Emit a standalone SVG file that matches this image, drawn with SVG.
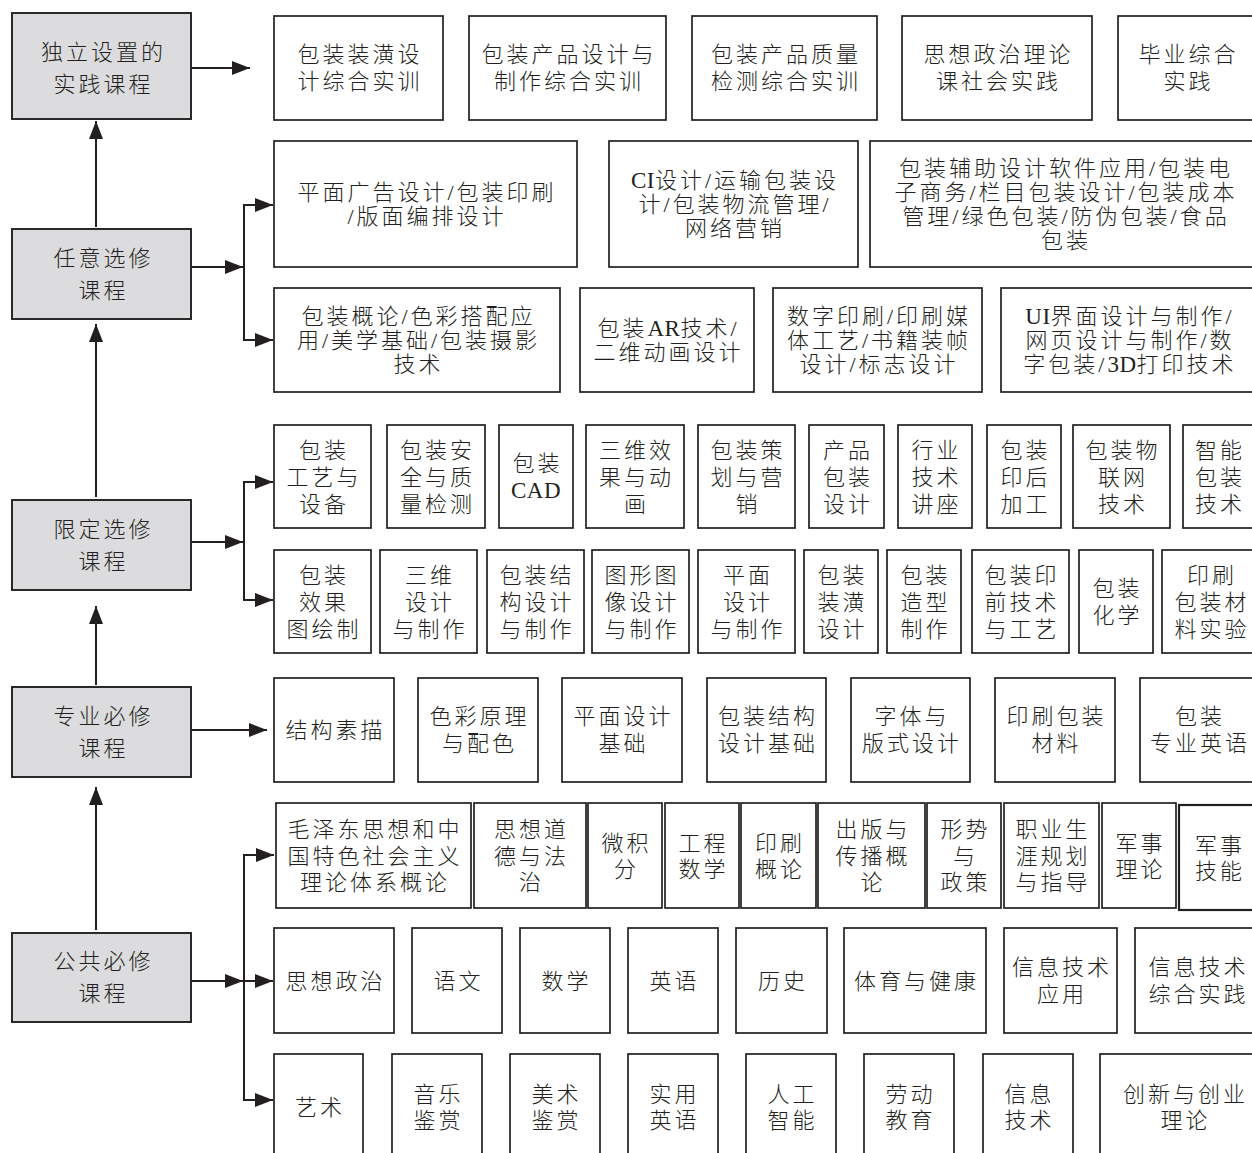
<svg xmlns="http://www.w3.org/2000/svg" width="1252" height="1153" viewBox="0 0 1252 1153">
<defs>
<style>
.b{fill:#ffffff;stroke:#231f20;stroke-width:1.7}
.g{fill:#dcdcde;stroke:#231f20;stroke-width:1.9}
text{font-family:"Liberation Serif","Noto Sans CJK SC",serif;font-size:22px;font-weight:300;letter-spacing:3px;text-anchor:middle;dominant-baseline:central;fill:#231f20}
.l{letter-spacing:0.5px;font-size:23px}
.c{fill:none;stroke:#231f20;stroke-width:2}
</style>
<marker id="ah" markerUnits="userSpaceOnUse" markerWidth="18" markerHeight="14" refX="18" refY="7" orient="auto">
<path d="M0,0 L18,7 L0,14 Z" fill="#231f20"/>
</marker>
</defs>
<rect width="1252" height="1153" fill="#ffffff"/>

<g id="connectors">
<line class="c" x1="192" y1="68" x2="250" y2="68" marker-end="url(#ah)"/>
<line class="c" x1="96" y1="227" x2="96" y2="121" marker-end="url(#ah)"/>
<line class="c" x1="96" y1="497" x2="96" y2="324" marker-end="url(#ah)"/>
<line class="c" x1="96" y1="685" x2="96" y2="606" marker-end="url(#ah)"/>
<line class="c" x1="96" y1="930" x2="96" y2="787" marker-end="url(#ah)"/>
<line class="c" x1="192" y1="267" x2="243" y2="267" marker-end="url(#ah)"/>
<path class="c" d="M244,267 V205 H273" marker-end="url(#ah)"/>
<path class="c" d="M244,267 V340 H273" marker-end="url(#ah)"/>
<line class="c" x1="192" y1="542" x2="243" y2="542" marker-end="url(#ah)"/>
<path class="c" d="M244,542 V482 H273" marker-end="url(#ah)"/>
<path class="c" d="M244,542 V600 H273" marker-end="url(#ah)"/>
<line class="c" x1="192" y1="730" x2="267" y2="730" marker-end="url(#ah)"/>
<line class="c" x1="192" y1="981" x2="243" y2="981" marker-end="url(#ah)"/>
<path class="c" d="M244,981 V855 H274" marker-end="url(#ah)"/>
<line class="c" x1="244" y1="981" x2="273" y2="981" marker-end="url(#ah)"/>
<path class="c" d="M244,981 V1100 H273" marker-end="url(#ah)"/>
</g>

<!-- category nodes -->
<g id="cat-dulishezhi"><rect class="g" x="12" y="13" width="179" height="106"/><text x="103.5" y="52">独立设置的</text><text x="103.5" y="84">实践课程</text></g>
<g id="cat-renyixuanxiu"><rect class="g" x="12" y="229" width="179" height="90"/><text x="103.5" y="258">任意选修</text><text x="103.5" y="290">课程</text></g>
<g id="cat-xiandingxuanxiu"><rect class="g" x="12" y="500" width="179" height="90"/><text x="103.5" y="529">限定选修</text><text x="103.5" y="561">课程</text></g>
<g id="cat-zhuanyebixiu"><rect class="g" x="12" y="687" width="179" height="90"/><text x="103.5" y="716">专业必修</text><text x="103.5" y="748">课程</text></g>
<g id="cat-gonggongbixiu"><rect class="g" x="12" y="933" width="179" height="89"/><text x="103.5" y="961.5">公共必修</text><text x="103.5" y="993.5">课程</text></g>

<!-- row 0 -->
<g id="r0-1"><rect class="b" x="274" y="16" width="169" height="104"/><text x="360" y="54.5">包装装潢设</text><text x="360" y="81.5">计综合实训</text></g>
<g id="r0-2"><rect class="b" x="469" y="16" width="197" height="104"/><text x="569" y="54.5">包装产品设计与</text><text x="569" y="81.5">制作综合实训</text></g>
<g id="r0-3"><rect class="b" x="692" y="16" width="185" height="104"/><text x="786" y="54.5">包装产品质量</text><text x="786" y="81.5">检测综合实训</text></g>
<g id="r0-4"><rect class="b" x="902" y="16" width="190" height="104"/><text x="998.5" y="54.5">思想政治理论</text><text x="998.5" y="81.5">课社会实践</text></g>
<g id="r0-5"><rect class="b" x="1118" y="16" width="150" height="104"/><text x="1188.5" y="54.5">毕业综合</text><text x="1188.5" y="81.5">实践</text></g>

<!-- row 1 -->
<g id="r1-1"><rect class="b" x="274" y="141" width="303" height="126"/><text x="427" y="192">平面广告设计/包装印刷</text><text x="427" y="216">/版面编排设计</text></g>
<g id="r1-2"><rect class="b" x="609" y="141" width="249" height="126"/><text x="735" y="180"><tspan class="l">CI</tspan>设计/运输包装设</text><text x="735" y="204">计/包装物流管理/</text><text x="735" y="228">网络营销</text></g>
<g id="r1-3"><rect class="b" x="870" y="141" width="400" height="126"/><text x="1066" y="168">包装辅助设计软件应用/包装电</text><text x="1066" y="192">子商务/栏目包装设计/包装成本</text><text x="1066" y="216">管理/绿色包装/防伪包装/食品</text><text x="1066" y="240">包装</text></g>
<g id="r1-4"><rect class="b" x="274" y="288" width="286" height="104"/><text x="418.5" y="316">包装概论/色彩搭配应</text><text x="418.5" y="340">用/美学基础/包装摄影</text><text x="418.5" y="364">技术</text></g>
<g id="r1-5"><rect class="b" x="580" y="288" width="174" height="104"/><text x="668.5" y="328">包装<tspan class="l">AR</tspan>技术/</text><text x="668.5" y="352">二维动画设计</text></g>
<g id="r1-6"><rect class="b" x="773" y="288" width="209" height="104"/><text x="879" y="316">数字印刷/印刷媒</text><text x="879" y="340">体工艺/书籍装帧</text><text x="879" y="364">设计/标志设计</text></g>
<g id="r1-7"><rect class="b" x="1001" y="288" width="270" height="104"/><text x="1130" y="316"><tspan class="l">UI</tspan>界面设计与制作/</text><text x="1130" y="340">网页设计与制作/数</text><text x="1130" y="364">字包装/<tspan class="l">3D</tspan>打印技术</text></g>

<!-- row 2a -->
<g id="r2a-1"><rect class="b" x="274" y="425" width="97" height="103"/><text x="324" y="450">包装</text><text x="324" y="477">工艺与</text><text x="324" y="504">设备</text></g>
<g id="r2a-2"><rect class="b" x="387" y="425" width="98" height="103"/><text x="437.5" y="450">包装安</text><text x="437.5" y="477">全与质</text><text x="437.5" y="504">量检测</text></g>
<g id="r2a-3"><rect class="b" x="499" y="425" width="74" height="103"/><text x="537.5" y="463.5">包装</text><text x="536" y="490.5" class="l">CAD</text></g>
<g id="r2a-4"><rect class="b" x="586" y="425" width="98" height="103"/><text x="636.5" y="450">三维效</text><text x="636.5" y="477">果与动</text><text x="636.5" y="504">画</text></g>
<g id="r2a-5"><rect class="b" x="698" y="425" width="97" height="103"/><text x="748" y="450">包装策</text><text x="748" y="477">划与营</text><text x="748" y="504">销</text></g>
<g id="r2a-6"><rect class="b" x="809" y="425" width="75" height="103"/><text x="848" y="450">产品</text><text x="848" y="477">包装</text><text x="848" y="504">设计</text></g>
<g id="r2a-7"><rect class="b" x="898" y="425" width="74" height="103"/><text x="936.5" y="450">行业</text><text x="936.5" y="477">技术</text><text x="936.5" y="504">讲座</text></g>
<g id="r2a-8"><rect class="b" x="987" y="425" width="74" height="103"/><text x="1025.5" y="450">包装</text><text x="1025.5" y="477">印后</text><text x="1025.5" y="504">加工</text></g>
<g id="r2a-9"><rect class="b" x="1073" y="425" width="97" height="103"/><text x="1123" y="450">包装物</text><text x="1123" y="477">联网</text><text x="1123" y="504">技术</text></g>
<g id="r2a-10"><rect class="b" x="1183" y="425" width="90" height="103"/><text x="1220" y="450">智能</text><text x="1220" y="477">包装</text><text x="1220" y="504">技术</text></g>

<!-- row 2b -->
<g id="r2b-1"><rect class="b" x="274" y="550" width="97" height="103"/><text x="324" y="575">包装</text><text x="324" y="602">效果</text><text x="324" y="629">图绘制</text></g>
<g id="r2b-2"><rect class="b" x="380" y="550" width="97" height="103"/><text x="430" y="575">三维</text><text x="430" y="602">设计</text><text x="430" y="629">与制作</text></g>
<g id="r2b-3"><rect class="b" x="487" y="550" width="97" height="103"/><text x="537" y="575">包装结</text><text x="537" y="602">构设计</text><text x="537" y="629">与制作</text></g>
<g id="r2b-4"><rect class="b" x="592" y="550" width="97" height="103"/><text x="642" y="575">图形图</text><text x="642" y="602">像设计</text><text x="642" y="629">与制作</text></g>
<g id="r2b-5"><rect class="b" x="698" y="550" width="97" height="103"/><text x="748" y="575">平面</text><text x="748" y="602">设计</text><text x="748" y="629">与制作</text></g>
<g id="r2b-6"><rect class="b" x="804" y="550" width="74" height="103"/><text x="842.5" y="575">包装</text><text x="842.5" y="602">装潢</text><text x="842.5" y="629">设计</text></g>
<g id="r2b-7"><rect class="b" x="887" y="550" width="74" height="103"/><text x="925.5" y="575">包装</text><text x="925.5" y="602">造型</text><text x="925.5" y="629">制作</text></g>
<g id="r2b-8"><rect class="b" x="972" y="550" width="97" height="103"/><text x="1022" y="575">包装印</text><text x="1022" y="602">前技术</text><text x="1022" y="629">与工艺</text></g>
<g id="r2b-9"><rect class="b" x="1079" y="550" width="74" height="103"/><text x="1117.5" y="588.5">包装</text><text x="1117.5" y="615.5">化学</text></g>
<g id="r2b-10"><rect class="b" x="1162" y="550" width="110" height="103"/><text x="1212" y="575">印刷</text><text x="1212" y="602">包装材</text><text x="1212" y="629">料实验</text></g>

<!-- row 3 -->
<g id="r3-1"><rect class="b" x="274" y="678" width="120" height="104"/><text x="335.5" y="730">结构素描</text></g>
<g id="r3-2"><rect class="b" x="418" y="678" width="120" height="104"/><text x="479.5" y="716.5">色彩原理</text><text x="479.5" y="743.5">与配色</text></g>
<g id="r3-3"><rect class="b" x="562" y="678" width="120" height="104"/><text x="623.5" y="716.5">平面设计</text><text x="623.5" y="743.5">基础</text></g>
<g id="r3-4"><rect class="b" x="707" y="678" width="119" height="104"/><text x="768" y="716.5">包装结构</text><text x="768" y="743.5">设计基础</text></g>
<g id="r3-5"><rect class="b" x="851" y="678" width="119" height="104"/><text x="912" y="716.5">字体与</text><text x="912" y="743.5">版式设计</text></g>
<g id="r3-6"><rect class="b" x="995" y="678" width="120" height="104"/><text x="1056.5" y="716.5">印刷包装</text><text x="1056.5" y="743.5">材料</text></g>
<g id="r3-7"><rect class="b" x="1140" y="678" width="130" height="104"/><text x="1200" y="716.5">包装</text><text x="1200" y="743.5">专业英语</text></g>

<!-- row 4a -->
<g id="r4a-1"><rect class="b" x="276" y="803" width="195" height="105"/><text x="375" y="829.5">毛泽东思想和中</text><text x="375" y="856">国特色社会主义</text><text x="375" y="882.5">理论体系概论</text></g>
<g id="r4a-2"><rect class="b" x="474" y="803" width="112" height="105"/><text x="531.5" y="829.5">思想道</text><text x="531.5" y="856">德与法</text><text x="531.5" y="882.5">治</text></g>
<g id="r4a-3"><rect class="b" x="588" y="803" width="74" height="105"/><text x="626.5" y="843">微积</text><text x="626.5" y="869">分</text></g>
<g id="r4a-4"><rect class="b" x="665" y="803" width="74" height="105"/><text x="703.5" y="843">工程</text><text x="703.5" y="869">数学</text></g>
<g id="r4a-5"><rect class="b" x="741" y="803" width="75" height="105"/><text x="780" y="843">印刷</text><text x="780" y="869">概论</text></g>
<g id="r4a-6"><rect class="b" x="818" y="803" width="107" height="105"/><text x="873" y="829.5">出版与</text><text x="873" y="856">传播概</text><text x="873" y="882.5">论</text></g>
<g id="r4a-7"><rect class="b" x="927" y="803" width="74" height="105"/><text x="965.5" y="829.5">形势</text><text x="965.5" y="856">与</text><text x="965.5" y="882.5">政策</text></g>
<g id="r4a-8"><rect class="b" x="1004" y="803" width="95" height="105"/><text x="1053" y="829.5">职业生</text><text x="1053" y="856">涯规划</text><text x="1053" y="882.5">与指导</text></g>
<g id="r4a-9"><rect class="b" x="1102" y="803" width="74" height="105"/><text x="1140.5" y="843">军事</text><text x="1140.5" y="869">理论</text></g>
<g id="r4a-10"><rect class="b" x="1179" y="805" width="90" height="105" style="stroke-width:2.2"/><text x="1220" y="845">军事</text><text x="1220" y="871">技能</text></g>

<!-- row 4b -->
<g id="r4b-1"><rect class="b" x="274" y="928" width="120" height="105"/><text x="335.5" y="981">思想政治</text></g>
<g id="r4b-2"><rect class="b" x="412" y="928" width="90" height="105"/><text x="458.5" y="981">语文</text></g>
<g id="r4b-3"><rect class="b" x="520" y="928" width="90" height="105"/><text x="566.5" y="981">数学</text></g>
<g id="r4b-4"><rect class="b" x="628" y="928" width="90" height="105"/><text x="674.5" y="981">英语</text></g>
<g id="r4b-5"><rect class="b" x="736" y="928" width="91" height="105"/><text x="783" y="981">历史</text></g>
<g id="r4b-6"><rect class="b" x="844" y="928" width="142" height="105"/><text x="916.5" y="981">体育与健康</text></g>
<g id="r4b-7"><rect class="b" x="1004" y="928" width="113" height="105"/><text x="1062" y="967.5">信息技术</text><text x="1062" y="994.5">应用</text></g>
<g id="r4b-8"><rect class="b" x="1135" y="928" width="135" height="105"/><text x="1198.5" y="967.5">信息技术</text><text x="1198.5" y="994.5">综合实践</text></g>

<!-- row 4c -->
<g id="r4c-1"><rect class="b" x="274" y="1054" width="89" height="115"/><text x="320" y="1107">艺术</text></g>
<g id="r4c-2"><rect class="b" x="392" y="1054" width="90" height="115"/><text x="438.5" y="1094">音乐</text><text x="438.5" y="1120">鉴赏</text></g>
<g id="r4c-3"><rect class="b" x="510" y="1054" width="90" height="115"/><text x="556.5" y="1094">美术</text><text x="556.5" y="1120">鉴赏</text></g>
<g id="r4c-4"><rect class="b" x="628" y="1054" width="90" height="115"/><text x="674.5" y="1094">实用</text><text x="674.5" y="1120">英语</text></g>
<g id="r4c-5"><rect class="b" x="746" y="1054" width="90" height="115"/><text x="792.5" y="1094">人工</text><text x="792.5" y="1120">智能</text></g>
<g id="r4c-6"><rect class="b" x="864" y="1054" width="90" height="115"/><text x="910.5" y="1094">劳动</text><text x="910.5" y="1120">教育</text></g>
<g id="r4c-7"><rect class="b" x="983" y="1054" width="90" height="115"/><text x="1029.5" y="1094">信息</text><text x="1029.5" y="1120">技术</text></g>
<g id="r4c-8"><rect class="b" x="1100" y="1054" width="170" height="115"/><text x="1185.5" y="1094">创新与创业</text><text x="1185.5" y="1120">理论</text></g>
</svg>
